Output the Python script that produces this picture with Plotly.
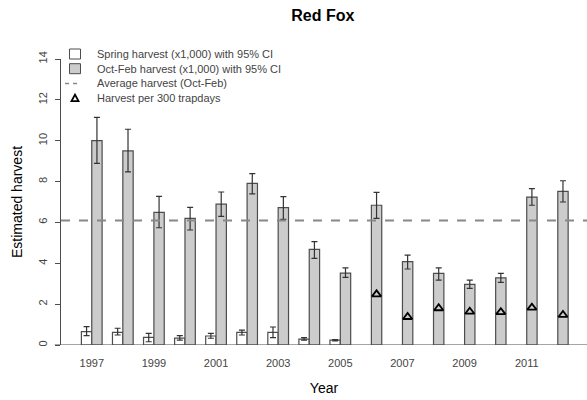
import plotly.graph_objects as go

# harvest estimates (thousands)
years = list(range(1997, 2013))
spring = [0.65, 0.62, 0.37, 0.34, 0.44, 0.62, 0.62, 0.29, 0.24] + [None] * 7
spring_hi = [0.90, 0.82, 0.57, 0.46, 0.57, 0.73, 0.88, 0.36, 0.27] + [None] * 7
spring_lo = [0.46, 0.49, 0.16, 0.24, 0.33, 0.49, 0.36, 0.24, 0.20] + [None] * 7
octfeb = [10.0, 9.5, 6.49, 6.2, 6.9, 7.91, 6.72, 4.68, 3.52, 6.84, 4.08, 3.51, 2.97, 3.29, 7.24, 7.52]
octfeb_hi = [11.14, 10.56, 7.28, 6.74, 7.49, 8.39, 7.26, 5.06, 3.78, 7.47, 4.40, 3.78, 3.18, 3.51, 7.65, 8.04]
octfeb_lo = [8.89, 8.47, 5.74, 5.63, 6.30, 7.40, 6.15, 4.24, 3.31, 6.20, 3.72, 3.18, 2.77, 3.07, 6.84, 7.00]
avg_harvest = 6.1
trap_years = list(range(2006, 2013))
per_trapdays = [2.48, 1.37, 1.80, 1.63, 1.61, 1.83, 1.47]
tick_years = list(range(1997, 2012, 2))

legend_labels = [
    "Spring harvest (x1,000) with 95% CI",
    "Oct-Feb harvest (x1,000) with 95% CI",
    "Average harvest (Oct-Feb)",
    "Harvest per 300 trapdays",
]

W, H = 587, 400
M = dict(l=61, r=0, t=59, b=55)
x_lo, x_hi = 1996.01, 2012.94
font = "Liberation Sans, Arial, sans-serif"
edge = "#4d4d4d"
spring_fill, octfeb_fill = "white", "#cccccc"


def up(v, hi):
    return [None if a is None else h - a for a, h in zip(v, hi)]


def down(v, lo):
    return [None if a is None else a - l for a, l in zip(v, lo)]


def px_x(p):
    return (p - M["l"]) / (W - M["l"] - M["r"])


def px_y(p):
    return (H - M["b"] - p) / (H - M["t"] - M["b"])


err = dict(color="#333333", thickness=1.2, width=3)

fig = go.Figure()
fig.add_trace(go.Bar(
    x=years, y=spring, name=legend_labels[0],
    marker=dict(color=spring_fill, line=dict(color=edge, width=1.2)),
    error_y=dict(type="data", array=up(spring, spring_hi),
                 arrayminus=down(spring, spring_lo), **err),
))
fig.add_trace(go.Bar(
    x=years, y=octfeb, name=legend_labels[1],
    marker=dict(color=octfeb_fill, line=dict(color=edge, width=1.2)),
    error_y=dict(type="data", array=up(octfeb, octfeb_hi),
                 arrayminus=down(octfeb, octfeb_lo), **err),
))
fig.add_trace(go.Scatter(
    x=[x_lo, x_hi], y=[avg_harvest, avg_harvest], mode="lines",
    name=legend_labels[2],
    line=dict(color="#888888", width=2, dash="dash"),
))
# triangles sit over the Oct-Feb bar (right half of each year group)
fig.add_trace(go.Scatter(
    x=[y + 1 / 6 for y in trap_years], y=per_trapdays, mode="markers",
    name=legend_labels[3],
    marker=dict(symbol="triangle-up-open", size=8, color="black",
                line=dict(width=1.8, color="black")),
))

fig.add_shape(type="line", xref="paper", yref="y", x0=-0.012, x1=1, y0=0, y1=0,
              line=dict(color=edge, width=1.2))

# R-style legend drawn by hand (plotly's legend rows are too tall)
sym_x, text_x, top_y, step = 75, 95, 54, 14.7
for i, label in enumerate(legend_labels):
    yy = px_y(top_y + i * step)
    fig.add_annotation(text=label, xref="paper", yref="paper", x=px_x(text_x), y=yy,
                       xanchor="left", yanchor="middle", showarrow=False,
                       font=dict(size=11, color="#444444"))
    anchor = dict(xref="paper", yref="paper", xsizemode="pixel", ysizemode="pixel",
                  xanchor=px_x(sym_x), yanchor=yy)
    if i < 2:
        fig.add_shape(type="rect", x0=-5.5, x1=5.5, y0=-5, y1=5,
                      fillcolor=[spring_fill, octfeb_fill][i],
                      line=dict(color=edge, width=1), **anchor)
    elif i == 2:
        fig.add_shape(type="line", x0=-10, x1=5, y0=0, y1=0,
                      line=dict(color="#888888", width=1.5, dash="4px,4px"), **anchor)
    else:
        fig.add_shape(type="path", path="M -3.5,-3 L 3.5,-3 L 0,3.5 Z",
                      line=dict(color="black", width=1.8), **anchor)

fig.update_layout(
    width=W, height=H,
    margin=M,
    plot_bgcolor="white", paper_bgcolor="white",
    barmode="group", bargap=1 / 3, bargroupgap=0,
    font=dict(family=font, color="#444444", size=11),
    title=dict(text="<b>Red Fox</b>", x=0.55, xanchor="center", y=0.962,
               yanchor="middle", font=dict(size=16, color="black")),
    showlegend=False,
    xaxis=dict(range=[x_lo, x_hi], tickvals=tick_years, showgrid=False,
               zeroline=False, showline=False, ticks="outside", ticklen=8,
               tickcolor="rgba(0,0,0,0)", tickfont=dict(size=11, color="#444444"),
               automargin=False,
               title=dict(text="Year", font=dict(size=14, color="black"), standoff=14)),
    yaxis=dict(range=[0, 14], tickvals=list(range(0, 15, 2)), showgrid=False,
               zeroline=False, showline=True, linecolor=edge, linewidth=1,
               ticks="outside", ticklen=5, tickcolor=edge, tickangle=-90,
               tickfont=dict(size=11, color="#444444"), ticklabelstandoff=4,
               automargin=False,
               title=dict(text="Estimated harvest", font=dict(size=14, color="black"),
                          standoff=10)),
)

# drop the default 8px page margin so the figure sits at the window origin
fig.write_html("out.html", config={"displayModeBar": False},
               post_script="document.body.style.margin='0';")
